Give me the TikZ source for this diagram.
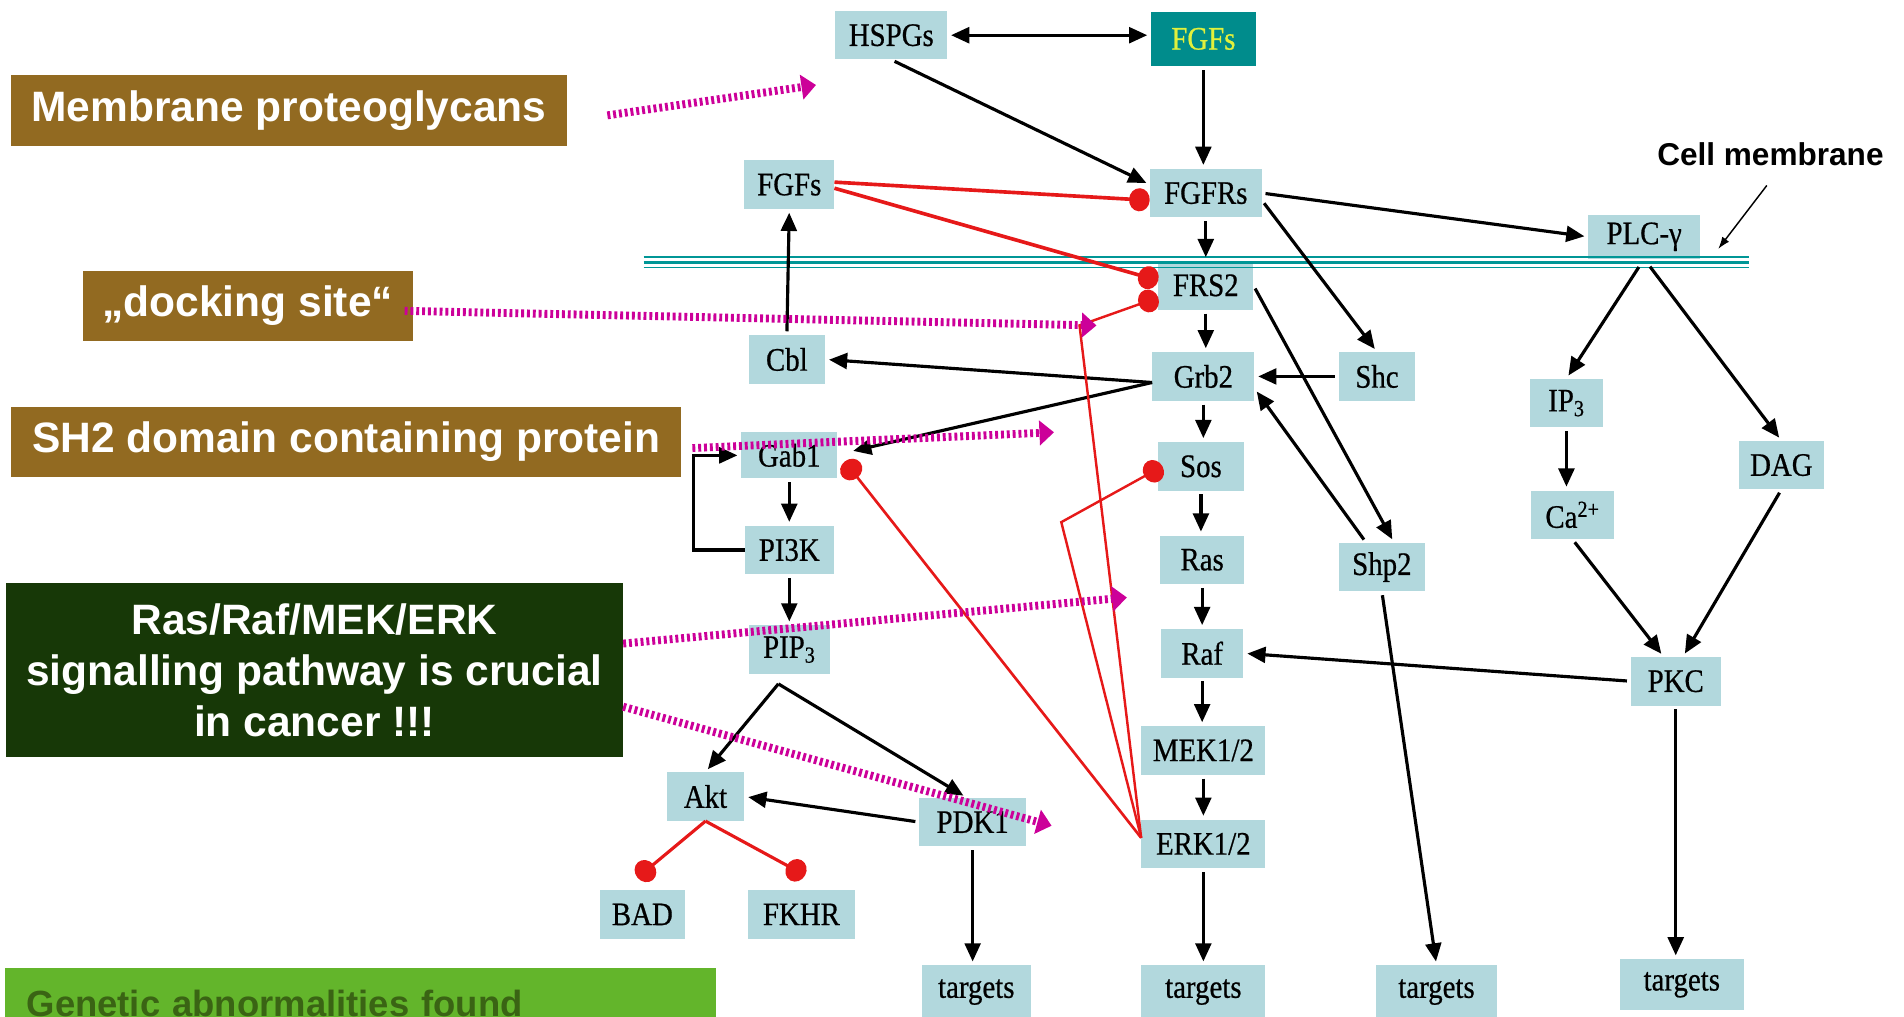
\documentclass[tikz,border=0pt]{standalone}
\usepackage{fontspec}
\usepackage{tikz}
\usetikzlibrary{arrows.meta, calc, positioning}
\newfontfamily\pathfont{Liberation Serif}[FakeStretch=0.88, FakeBold=0.6]
\newfontfamily\calloutfont{Liberation Sans}
\definecolor{boxblue}{RGB}{178,216,221}
\definecolor{fgfteal}{RGB}{0,140,140}
\definecolor{fgfyellow}{RGB}{225,240,60}
\definecolor{membrane}{RGB}{0,150,150}
\definecolor{inhred}{RGB}{230,25,25}
\definecolor{callbrown}{RGB}{146,106,33}
\definecolor{calldark}{RGB}{23,56,7}
\definecolor{callgreen}{RGB}{99,181,43}
\definecolor{textgreen}{RGB}{58,100,20}
\definecolor{hintmagenta}{RGB}{204,0,153}

\begin{document}
\begin{tikzpicture}[x=1pt, y=-1pt, every node/.style={align=center, inner sep=0pt},
  box/.style={fill=boxblue, minimum width=#1, minimum height=40pt, font=\pathfont\fontsize{27}{29}\selectfont},
  box/.default=70pt,
  callout/.style={text=white, font=\calloutfont\bfseries\fontsize{35}{42}\selectfont},
  arr/.style={line width=2.6pt, -{Triangle[length=15pt,width=13pt]}, shorten >=3pt, shorten <=3pt},
  inh/.style={draw=inhred, line width=2.6pt, -{Circle[length=17pt,width=19pt]}},
  hint/.style={draw=hintmagenta, line width=6.5pt, dash pattern=on 2.4pt off 2.4pt, -{Triangle[length=12pt,width=20pt]}}]
  \useasboundingbox (0,0) rectangle (1568,837);
  \clip (0,0) rectangle (1568,837);

  \node[box=92pt] (HSPG) at (734,29) {HSPGs};
  \node[box=86pt, fill=fgfteal, text=fgfyellow, minimum height=45pt] (FGF) at (991,32) {FGFs};
  \node[box=74pt] (FGFL) at (650,152) {FGFs};
  \node[box=92pt] (FGFR) at (993,159) {FGFRs};
  \node[box=92pt, minimum height=36pt] (PLC) at (1354,195) {PLC-γ};
  \node[box=78pt] (FRS) at (993,235) {FRS2};
  \node[box=63pt] (CBL) at (648,296) {Cbl};
  \node[box=84pt] (GRB) at (991,310) {Grb2};
  \node[box=63pt] (SHC) at (1134,310) {Shc};
  \node[box=60pt] (IP) at (1290,332) {IP\textsubscript{3}};
  \node[box=79pt, minimum height=38pt] (GAB) at (650,375) {Gab1};
  \node[box=71pt] (SOS) at (989,384) {Sos};
  \node[box=70pt] (DAG) at (1467,383) {DAG};
  \node[box=73pt] (PIK) at (650,453) {PI3K};
  \node[box=68pt] (CA) at (1295,424) {Ca\textsuperscript{2+}};
  \node[box=69pt] (RAS) at (990,461) {Ras};
  \node[box=71pt] (SHP) at (1138,467) {Shp2};
  \node[box=67pt] (PIP) at (650,535) {PIP\textsubscript{3}};
  \node[box=68pt] (RAF) at (990,538) {Raf};
  \node[box=74pt] (PKC) at (1380,561) {PKC};
  \node[box=102pt] (MEK) at (991,618) {MEK1/2};
  \node[box=64pt] (AKT) at (581,656) {Akt};
  \node[box=88pt] (PDK) at (801,677) {PDK1};
  \node[box=102pt] (ERK) at (991,695) {ERK1/2};
  \node[box=70pt] (BAD) at (529,753) {BAD};
  \node[box=88pt] (FKHR) at (660,753) {FKHR};
  \node[box=90pt, minimum height=44pt] (T1) at (804,817) {targets};
  \node[box=102pt, minimum height=44pt] (T2) at (991,817) {targets};
  \node[box=100pt, minimum height=44pt] (T3) at (1183,817) {targets};
  \node[box=102pt, minimum height=42pt] (T4) at (1385,811) {targets};

  \draw[membrane, line width=1.2pt] (530,211.5) -- (1440,211.5);
  \draw[membrane, line width=2.8pt] (530,216) -- (1440,216);
  \draw[membrane, line width=1.2pt] (530,220.5) -- (1440,220.5);
  \node[font=\calloutfont\bfseries\fontsize{26}{28}\selectfont] (CM) at (1458,127) {Cell membrane};
  \coordinate (CMtip) at (1415,205);
  \draw[line width=1.2pt, -{Latex[length=10pt,width=7pt]}] ([xshift=-3pt,yshift=-16pt]CM.south) -- (CMtip);

  \draw[arr, arrows={Triangle[length=15pt,width=13pt]-Triangle[length=15pt,width=13pt]}] (HSPG.east) -- (HSPG.east -| FGF.west);
  \draw[arr] (FGF.south) -- (FGF.south |- FGFR.north);
  \draw[arr] (HSPG.south) -- ([yshift=7pt]FGFR.west);
  \draw[arr] (FGFR.south) -- (FGFR.south |- FRS.north);
  \draw[arr] (FGFR.east) -- (PLC.west);
  \draw[arr] ([yshift=-6pt]FGFR.east) -- (SHC.north);
  \draw[arr] (FRS.south) -- (FRS.south |- GRB.north);
  \draw[arr] (FRS.east) -- ([xshift=10pt]SHP.north);
  \draw[arr] ([xshift=-13pt]SHP.north) -- ([yshift=-10pt]GRB.east);
  \draw[arr] (SHC.west) -- (GRB.east);
  \coordinate (grbout) at ([yshift=-5pt]GRB.west);
  \draw[arr, shorten <=0pt] (grbout) -- (CBL.east);
  \draw[arr, shorten <=0pt] (grbout) -- ([xshift=10pt,yshift=3pt]GAB.east);
  \draw[arr] (CBL.north) -- (FGFL.south);
  \draw[arr] (GRB.south) -- (GRB.south |- SOS.north);
  \draw[arr] (SOS.south) -- (SOS.south |- RAS.north);
  \draw[arr] (RAS.south) -- (RAS.south |- RAF.north);
  \draw[arr] (RAF.south) -- (RAF.south |- MEK.north);
  \draw[arr] (MEK.south) -- (MEK.south |- ERK.north);
  \draw[arr] (ERK.south) -- (ERK.south |- T2.north);
  \draw[arr, shorten <=8pt] (PLC.south) -- (IP.north);
  \draw[arr, shorten <=8pt] (PLC.south) -- (DAG.north);
  \draw[arr] (IP.south) -- (IP.south |- CA.north);
  \draw[arr] (CA.south) -- ([xshift=-10pt]PKC.north);
  \draw[arr] (DAG.south) -- ([xshift=6pt]PKC.north);
  \draw[arr] (PKC.west) -- (RAF.east);
  \draw[arr] (PKC.south) -- (PKC.south |- T4.north);
  \draw[arr] (SHP.south) -- (T3.north);
  \draw[arr] (GAB.south) -- (GAB.south |- PIK.north);
  \draw[arr, shorten <=0pt] (PIK.west) -- ++(-42,0) |- (GAB.west);
  \draw[arr] (PIK.south) -- (PIK.south |- PIP.north);
  \coordinate (pipout) at ([xshift=-9pt,yshift=-8pt]PIP.south);
  \draw[arr, shorten <=0pt] (pipout) -- (AKT.north);
  \draw[arr, shorten <=0pt] (pipout) -- ([xshift=-5pt]PDK.north);
  \draw[arr] (PDK.west) -- (AKT.east);
  \draw[arr] (PDK.south) -- (PDK.south |- T1.north);

  \coordinate (bendF) at (889,268);
  \coordinate (bendS) at (874,430);
  \draw[inh, line width=3pt] ([yshift=2pt]FGFL.east) -- ([yshift=-6pt]FGFR.west);
  \draw[inh, line width=3pt] ([yshift=-3pt]FGFL.east) -- ([yshift=4pt]FRS.west);
  \draw[inh, line width=2pt] ([yshift=5pt]ERK.west) -- (bendF) -- ([yshift=-10pt]FRS.west);
  \draw[inh, line width=2pt] ([yshift=5pt]ERK.west) -- (bendS) -- ([xshift=4pt]SOS.west);
  \draw[inh, line width=2.2pt] ([yshift=5pt]ERK.west) -- ([xshift=6pt,yshift=-5pt]GAB.east);
  \draw[inh] (AKT.south) -- ([xshift=-4pt,yshift=10pt]BAD.north);
  \draw[inh] (AKT.south) -- ([xshift=3pt,yshift=12pt]FKHR.north);

  \node[callout, fill=callbrown, minimum width=458pt, minimum height=58pt] (MP) at (238,91) {Membrane proteoglycans};
  \node[callout, fill=callbrown, minimum width=272pt, minimum height=57pt] (DS) at (204,252) {„docking site“};
  \node[callout, fill=callbrown, minimum width=552pt, minimum height=57pt] (SH) at (285,364) {SH2 domain containing protein};
  \node[callout, fill=calldark, minimum width=508pt, minimum height=143pt] (RR) at (259,552) {Ras/Raf/MEK/ERK\\signalling pathway is crucial\\in cancer !!!};
  \node[callout, fill=callgreen, text=textgreen, minimum width=586pt, minimum height=58pt, text width=550pt, align=left, font=\calloutfont\bfseries\fontsize{30}{32}\selectfont] (GA) at (297,826) {Genetic abnormalities found};

  \coordinate (mptip) at (672,70);
  \coordinate (dstip) at (903,268);
  \coordinate (shtip) at (868,356);
  \coordinate (rrtipA) at (928,492);
  \coordinate (rrtipB) at (866,680);
  \draw[hint] ([xshift=33pt,yshift=-4pt]MP.east) -- (mptip);
  \draw[hint] ([xshift=-7pt,yshift=-4pt]DS.east) -- (dstip);
  \draw[hint] ([xshift=9pt,yshift=-5pt]SH.east) -- (shtip);
  \draw[hint] ([yshift=22pt]RR.east) -- (rrtipA);
  \draw[hint] ([yshift=-30pt]RR.east) -- (rrtipB);
\end{tikzpicture}
\end{document}
